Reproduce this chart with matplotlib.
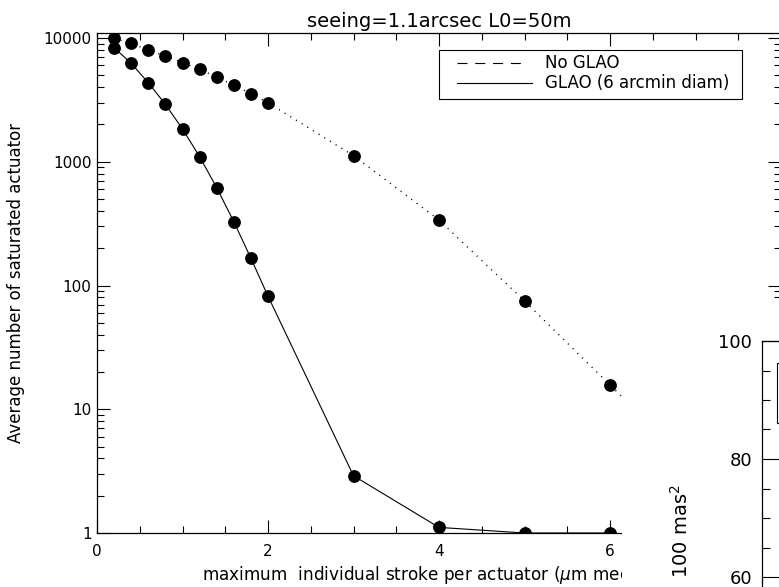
import matplotlib
matplotlib.use("Agg")
import matplotlib.pyplot as plt
from matplotlib.patches import Rectangle
from matplotlib.lines import Line2D
from matplotlib.ticker import MultipleLocator, LogLocator, NullFormatter, FixedLocator

# ---------------- data ----------------
title = "seeing=1.1arcsec L0=50m"
xlabel = "maximum  individual stroke per actuator ($\\mu$m mech.)"
ylabel = "Average number of saturated actuator"
series_names = ["No GLAO", "GLAO (6 arcmin diam)"]

x_noglao = [0.2, 0.4, 0.6, 0.8, 1.0, 1.2, 1.4, 1.6, 1.8, 2.0, 3, 4, 5, 6, 7]
y_noglao = [9930, 9060, 8000, 7160, 6310, 5590, 4840, 4150, 3550, 3000, 1120, 338, 75, 15.7, 3.3]

x_glao = [0.2, 0.4, 0.6, 0.8, 1.0, 1.2, 1.4, 1.6, 1.8, 2.0, 3, 4, 5, 6]
y_glao = [8350, 6240, 4350, 2910, 1840, 1100, 617, 328, 166, 82, 2.9, 1.11, 1.0, 1.0]

xticks_main = [0, 2, 4, 6, 8]
xticklabels_main = ["0", "2", "4", "6", ""]
yticks_main = [1, 10, 100, 1000, 10000]
yticklabels_main = ["1", "10", "100", "1000", "10000"]

# second (partially hidden) panel
yticks_second = [60, 80, 100]
yticklabels_second = ["60", "80", "100"]
ylabel_second = "100 mas$^2$"

# ---------------- figure ----------------
W, H = 779, 587
fig = plt.figure(figsize=(W / 100, H / 100), dpi=100)
fig.patch.set_facecolor("white")

def fx(px):
    return px / W

def fy(py):
    return (H - py) / H

# main axes: x=0 at px 97, x=8 at px 781 ; top px 33, bottom px 533
ax = fig.add_axes([fx(97), fy(533), fx(781) - fx(97), fy(33) - fy(533)])
ax.set_xlim(0, 8)
ax.set_yscale("log")
ax.set_ylim(1, 10 ** (500 / 123.75))

ax.plot(x_noglao, y_noglao, color="black", lw=1.0, dashes=(0.8, 4.0),
        marker="o", markersize=8.2, markerfacecolor="black", markeredgecolor="black")
ax.plot(x_glao, y_glao, color="black", lw=0.8, ls="-",
        marker="o", markersize=8.2, markerfacecolor="black", markeredgecolor="black")

ax.xaxis.set_major_locator(FixedLocator(xticks_main))
ax.xaxis.set_minor_locator(MultipleLocator(0.5))
ax.yaxis.set_major_locator(FixedLocator(yticks_main))
ax.yaxis.set_minor_locator(LogLocator(base=10, subs=range(2, 10)))
ax.yaxis.set_minor_formatter(NullFormatter())
ax.set_yticklabels(yticklabels_main)
ax.set_xticklabels(xticklabels_main)

ax.tick_params(which="both", direction="in", top=True, right=True, width=0.8, colors="black")
ax.tick_params(which="major", length=9.5, labelsize=11)
ax.tick_params(which="minor", length=5)
ax.tick_params(axis="x", which="major", pad=8)
ax.tick_params(axis="y", which="major", pad=4)
for s in ax.spines.values():
    s.set_linewidth(0.9)
    s.set_color("black")

ax.set_title(title, fontsize=14, pad=4)
ax.set_xlabel(xlabel, fontsize=12.2, ha="left")
ax.xaxis.set_label_coords((202 - 97) / 684, -(575 - 533) / 500)
ax.xaxis.label.set_va("center")
ax.set_ylabel(ylabel, fontsize=12)
ax.yaxis.set_label_coords(-(97 - 25) / 684, 0.5)

# legend (drawn in figure pixel coordinates)
frame = Rectangle((439, H - 99), 742 - 439, 99 - 50, transform=None,
                  facecolor="white", edgecolor="black", lw=0.8, zorder=4)
fig.add_artist(frame)
fig.add_artist(Line2D([457, 522], [H - 63, H - 63], transform=None, color="black",
                      lw=0.8, ls=(0, (9, 7)), zorder=4.1))
fig.add_artist(Line2D([457, 532], [H - 83, H - 83], transform=None, color="black",
                      lw=0.8, ls="-", zorder=4.1))
fig.text(fx(545), fy(63), series_names[0], fontsize=12, va="center", ha="left", zorder=4.2)
fig.text(fx(545), fy(83), series_names[1], fontsize=12, va="center", ha="left", zorder=4.2)

# white cover of the overlapping second figure
fig.add_artist(Rectangle((fx(622), 0), 1, fy(300), transform=fig.transFigure,
                         facecolor="white", edgecolor="none", zorder=5))

# second panel (mostly outside the image): top 100 at px 341, 5.9 px per unit
ax2 = fig.add_axes([fx(762), fy(341 + 5.9 * 60), 0.5, 5.9 * 60 / H], zorder=10)
ax2.set_facecolor("white")
ax2.set_ylim(40, 100)
ax2.set_xlim(0, 1)
ax2.yaxis.set_major_locator(FixedLocator(yticks_second))
ax2.yaxis.set_minor_locator(MultipleLocator(5))
ax2.set_yticklabels(yticklabels_second)
ax2.set_xticks([])
ax2.tick_params(axis="y", which="both", direction="in", width=0.8)
ax2.tick_params(axis="y", which="major", length=14, labelsize=13, pad=7)
ax2.tick_params(axis="y", which="minor", length=6)
for s in ax2.spines.values():
    s.set_linewidth(0.9)
ax2.add_patch(Rectangle((777, H - 423), 150, 60, transform=None,
                        facecolor="white", edgecolor="black", lw=0.8))
fig.text(fx(681), fy(578), ylabel_second, rotation=90, ha="center", va="bottom",
         fontsize=14, zorder=11)

fig.savefig("out.png", dpi=100)
